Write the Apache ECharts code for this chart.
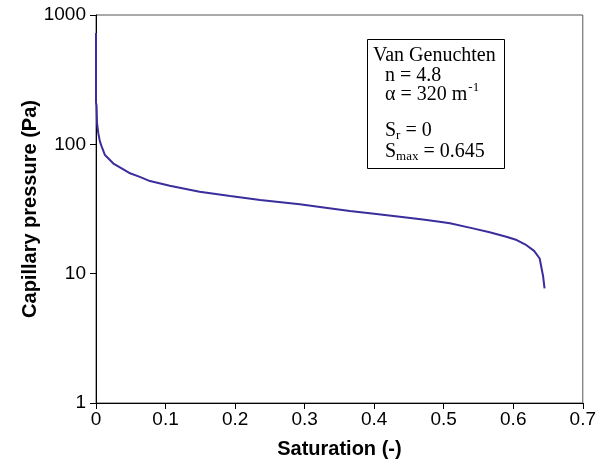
<!DOCTYPE html>
<html><head><meta charset="utf-8">
<script src="https://cdn.jsdelivr.net/npm/echarts@6/dist/echarts.min.js"></script>
<style>html,body{margin:0;padding:0;background:#fff}#c{width:599px;height:470px}</style>
</head><body><div id="c"></div>
<script>
// Saturation (-)
var saturation = [0, 0, 0.0008, 0.0015, 0.0033, 0.0057, 0.0082, 0.0129, 0.025, 0.0369, 0.049, 0.063, 0.0776, 0.106, 0.149, 0.193, 0.236, 0.293, 0.33, 0.365, 0.4, 0.437, 0.47, 0.494, 0.509, 0.542, 0.566, 0.59, 0.605, 0.619, 0.63, 0.638, 0.643, 0.645];
// Capillary pressure (Pa)
var pressure   = [725, 210, 200, 146, 122, 105, 96, 82.6, 71, 65.2, 59.7, 56, 52, 47.9, 43, 39.8, 37.1, 34.4, 32.4, 30.5, 29, 27.5, 26.2, 25.2, 24.5, 22.4, 20.9, 19.3, 18.2, 16.6, 15, 13.1, 9.5, 7.7];
var xTicks = [0, 0.1, 0.2, 0.3, 0.4, 0.5, 0.6, 0.7];
var yTicks = [1, 10, 100, 1000];

var chart = echarts.init(document.getElementById('c'), null, {renderer: 'canvas'});
var pts = saturation.map(function (s, i) { return [s, pressure[i]]; });
var sans = 'Liberation Sans, Arial, sans-serif';
var serif = 'Liberation Serif, Times New Roman, serif';
chart.setOption({
  animation: false,
  backgroundColor: '#fff',
  grid: {left: 96, right: 16, top: 15, bottom: 67, show: true, borderColor: '#555', borderWidth: 1},
  xAxis: {
    type: 'value', min: xTicks[0], max: xTicks[xTicks.length - 1], interval: 0.1,
    name: 'Saturation (-)', nameLocation: 'middle', nameGap: 36, nameMoveOverlap: false,
    nameTextStyle: {fontFamily: sans, fontSize: 20, fontWeight: 'bold', color: '#000'},
    axisLine: {show: true, lineStyle: {color: '#000', width: 1}},
    axisTick: {show: true, length: 6, lineStyle: {color: '#000'}},
    axisLabel: {fontFamily: sans, fontSize: 19, color: '#000', margin: 7,
      formatter: function (v) { return String(+v.toFixed(1)); }},
    splitLine: {show: false}
  },
  yAxis: {
    type: 'log', logBase: 10, min: yTicks[0], max: yTicks[yTicks.length - 1],
    name: 'Capillary pressure (Pa)', nameLocation: 'middle', nameGap: 56, nameMoveOverlap: false,
    nameTextStyle: {fontFamily: sans, fontSize: 20, fontWeight: 'bold', color: '#000'},
    axisLine: {show: true, lineStyle: {color: '#000', width: 1}},
    axisTick: {show: true, length: 6, lineStyle: {color: '#000'}},
    axisLabel: {fontFamily: sans, fontSize: 19, color: '#000', margin: 10,
      formatter: function (v) { return String(Math.round(v)); }},
    minorTick: {show: false},
    splitLine: {show: false}
  },
  series: [{
    type: 'line', data: pts, showSymbol: false, symbol: 'none',
    lineStyle: {color: '#3a2d9c', width: 2}, smooth: false
  }],
  graphic: [
    {type: 'rect', left: 367, top: 39, shape: {width: 137, height: 129},
     style: {fill: '#fff', stroke: '#000', lineWidth: 1}, z: 10},
    {type: 'text', left: 373, top: 46, z: 11,
     style: {text: 'Van Genuchten', font: '20px ' + serif, fill: '#000'}},
    {type: 'text', left: 385, top: 66, z: 11,
     style: {text: 'n = 4.8', font: '20px ' + serif, fill: '#000'}},
    {type: 'text', left: 385, top: 81, z: 11,
     style: {text: '{a|α = 320 m}{s|-1}', fill: '#000',
       rich: {a: {fontFamily: serif, fontSize: 20, lineHeight: 24, verticalAlign: 'bottom'},
              s: {fontFamily: serif, fontSize: 13, lineHeight: 24, verticalAlign: 'top', padding: [0,0,8,1]}}}},
    {type: 'text', left: 385, top: 119, z: 11,
     style: {text: '{a|S}{s|r}{a| = 0}', fill: '#000',
       rich: {a: {fontFamily: serif, fontSize: 20, lineHeight: 24},
              s: {fontFamily: serif, fontSize: 13, lineHeight: 24, padding: [10,0,0,0]}}}},
    {type: 'text', left: 385, top: 140, z: 11,
     style: {text: '{a|S}{s|max}{a| = 0.645}', fill: '#000',
       rich: {a: {fontFamily: serif, fontSize: 20, lineHeight: 24},
              s: {fontFamily: serif, fontSize: 13, lineHeight: 24, padding: [10,0,0,0]}}}}
  ]
});
</script>
</body></html>
